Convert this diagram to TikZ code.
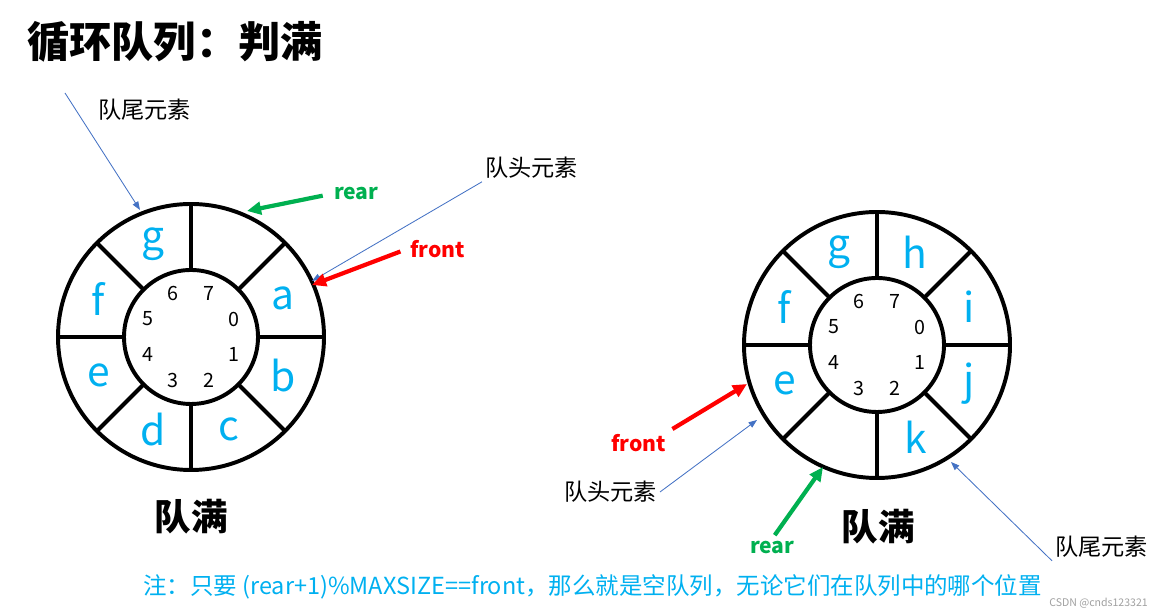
\documentclass[tikz,border=0pt]{standalone}
\usepackage{fontspec}
\setmainfont{Noto Sans CJK SC}
\usepackage{tikz}
\usetikzlibrary{arrows.meta, positioning, calc}
\definecolor{QueueCyan}{HTML}{00B0F0}
\definecolor{QueueGreen}{HTML}{00B050}
\definecolor{QueueRed}{HTML}{FF0000}
\definecolor{QueueBlue}{HTML}{4472C4}
\definecolor{QueueGray}{HTML}{A0A0A0}
\tikzset{
    % Ring drawn as two circles and eight spokes
    ring line/.style={
        draw=black,
        line width=2.8pt
    },
    slot letter/.style={
        text=QueueCyan,
        inner sep=0pt,
        font=\fontsize{29}{29}\selectfont
    },
    index num/.style={
        inner sep=0pt,
        font=\fontsize{14}{14}\selectfont
    },
    plain label/.style={
        anchor=west,
        inner sep=2pt,
        font=\fontsize{16.5}{18}\selectfont
    },
    pointer label/.style={
        anchor=west,
        inner sep=2pt,
        font=\fontsize{15}{17}\selectfont\bfseries
    },
    big label/.style={
        inner sep=2pt,
        font=\fontsize{26}{28}\selectfont\bfseries
    },
    thick arrow/.style={
        -{Triangle[length=10pt,width=9pt]},
        line width=3pt
    },
    thin arrow/.style={
        -{Triangle[length=6pt,width=4.5pt]},
        line width=0.6pt,
        QueueBlue
    }
}

\begin{document}
\begin{tikzpicture}[x=0.025cm, y=0.025cm]
        \useasboundingbox (0,0) rectangle (1164,616);

        % Title
        \node[anchor=west, inner sep=0pt, font=\fontsize{30}{32}\selectfont\bfseries] (title) at (27,574) {循环队列：判满};

        % Left ring: front at 0, rear at 7
        \coordinate (qa) at (191,279);
        \draw[ring line] (qa) circle (133) (qa) circle (67);
        \foreach \a in {0,45,...,315}
            \draw[ring line] ($(qa)+(\a:67)$) -- ($(qa)+(\a:133)$);
        \foreach \k in {0,...,7}
            \node[index num] (qa-n\k) at ($(qa)+({22.5-45*\k}:47)$) {\k};
        \foreach \k/\c in {0/a,1/b,2/c,3/d,4/e,5/f,6/g}
            \node[slot letter] (qa-s\k) at ($(qa)+({22.5-45*\k}:100)$) {\c};

        % Right ring: front at 4, rear at 3
        \coordinate (qb) at (877,271);
        \draw[ring line] (qb) circle (133) (qb) circle (67);
        \foreach \a in {0,45,...,315}
            \draw[ring line] ($(qb)+(\a:67)$) -- ($(qb)+(\a:133)$);
        \foreach \k in {0,...,7}
            \node[index num] (qb-n\k) at ($(qb)+({22.5-45*\k}:47)$) {\k};
        \foreach \k/\c in {0/i,1/j,2/k,4/e,5/f,6/g,7/h}
            \node[slot letter] (qb-s\k) at ($(qb)+({22.5-45*\k}:100)$) {\c};

        % Labels of the left ring
        \node[plain label] (tailL) at (95,506) {队尾元素};
        \node[plain label] (headL) at (482,448) {队头元素};
        \node[pointer label, text=QueueGreen] (rearL) at (331,422) {rear};
        \node[pointer label, text=QueueRed] (frontL) at (407,367) {front};
        \node[big label] (fullL) at (191,99) {队满};

        % Labels of the right ring
        \node[pointer label, text=QueueRed] (frontR) at (608,173) {front};
        \node[plain label] (headR) at (561,124) {队头元素};
        \node[pointer label, text=QueueGreen] (rearR) at (747,68) {rear};
        \node[plain label] (tailR) at (1052,69) {队尾元素};
        \node[big label] (fullR) at (878,89) {队满};

        % Note and mark
        \node[anchor=west, inner sep=0pt, text=QueueCyan, font=\fontsize{16.7}{18}\selectfont] (note) at (143,29) {注：只要 (rear+1)\%MAXSIZE==front，那么就是空队列，无论它们在队列中的哪个位置};
        \node[anchor=east, inner sep=0pt, text=QueueGray, font=\fontsize{7.5}{8}\selectfont] (mark) at (1148,13) {CSDN @cnds123321};

        % Pointer ends on the rings
        \coordinate (tailL-from) at (65,523);
        \coordinate (tailL-tip) at (140,406);
        \coordinate (headL-tip) at (312,335);
        \coordinate (frontL-tip) at (312,331);
        \coordinate (rearL-tip) at (247,405);
        \coordinate (frontR-tip) at (747,232);
        \coordinate (headR-tip) at (757,196);
        \coordinate (rearR-tip) at (823,149);
        \coordinate (tailR-tip) at (951,154);

        \draw[thin arrow] (tailL-from) -- (tailL-tip);
        \draw[thin arrow] (headL.south west) -- (headL-tip);
        \draw[thick arrow, QueueGreen, shorten <=6pt] (rearL.west) -- (rearL-tip);
        \draw[thick arrow, QueueRed, shorten <=5pt] (frontL.west) -- (frontL-tip);

        \draw[thick arrow, QueueRed, shorten <=3pt] (frontR.north east) -- (frontR-tip);
        \draw[thin arrow] (headR.east) -- (headR-tip);
        \draw[thick arrow, QueueGreen, shorten <=3pt] (rearR.north) -- (rearR-tip);
        \draw[thin arrow] (tailR.south west) -- (tailR-tip);
    \end{tikzpicture}
\end{document}
